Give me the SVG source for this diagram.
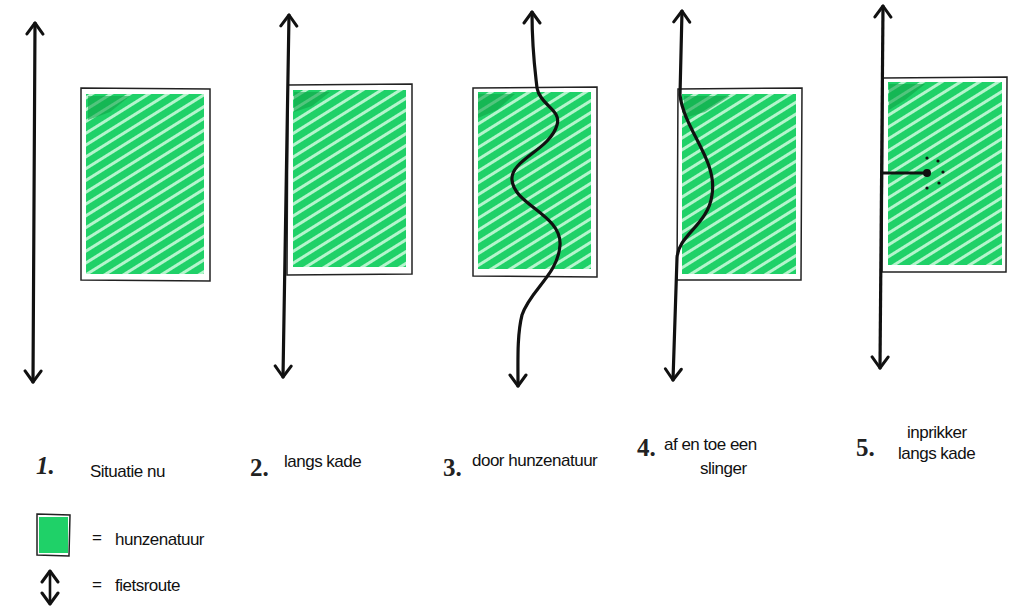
<svg xmlns="http://www.w3.org/2000/svg" width="1025" height="611" viewBox="0 0 1025 611">
<style>
.box{fill:none;stroke:#222;stroke-width:1.5}
.route{fill:none;stroke:#111;stroke-width:3.2;stroke-linecap:round;stroke-linejoin:round}
.num{font-family:"Liberation Serif",serif;font-style:italic;font-weight:bold;font-size:25px;fill:#222}
.num2{font-family:"Liberation Serif",serif;font-weight:bold;font-size:25px;fill:#222}
.hand{font-family:"Liberation Sans",sans-serif;font-size:17px;fill:#111;letter-spacing:-0.5px}
.green{fill:url(#hatch)}
.dark{fill:#0fa548;opacity:0.6}
</style>
<defs>
<pattern id="hatch" patternUnits="userSpaceOnUse" width="10" height="10" patternTransform="rotate(-32)">
<rect width="10" height="10" fill="#b5f5cd"/>
<rect y="0" width="10" height="7" fill="#1fd168"/>
</pattern>
<marker id="ah" viewBox="0 0 20 20" refX="17" refY="10" markerWidth="20" markerHeight="20" markerUnits="userSpaceOnUse" orient="auto-start-reverse">
<path d="M6,2 L17,10 L6,18" fill="none" stroke="#111" stroke-width="3" stroke-linecap="round" stroke-linejoin="round"/>
</marker>
</defs>

<g id="panel1">
<rect class="green" x="86" y="94" width="118" height="180"/>
<path class="dark" d="M88,96 L130,96 L110,112 L88,120 Z"/>
<path class="box" d="M81,88 L210,89 L210,281 L81,280 Z"/>
</g>
<g id="panel2">
<rect class="green" x="293" y="90" width="113" height="177"/>
<path class="dark" d="M294,92 L330,92 L312,106 L294,112 Z"/>
<path class="box" d="M288,85 L412,84 L412,274 L287,275 Z"/>
</g>
<g id="panel3">
<rect class="green" x="478" y="92" width="113" height="177"/>
<path class="dark" d="M478,94 L515,94 L497,110 L478,118 Z"/>
<path class="box" d="M473,88 L597,87 L597,277 L473,276 Z"/>
</g>
<g id="panel4">
<rect class="green" x="682" y="94" width="114" height="180"/>
<path class="dark" d="M684,96 L730,96 L705,112 L684,118 Z"/>
<path class="box" d="M678,89 L802,88 L801,280 L677,280 Z"/>
</g>
<g id="panel5">
<rect class="green" x="888" y="82" width="114" height="183"/>
<path class="dark" d="M889,84 L925,84 L905,100 L889,110 Z"/>
<path class="box" d="M883,78 L1007,77 L1006,272 L882,272 Z"/>
</g>

<g id="connectors">
<path class="route" d="M35,23 L33,382" marker-start="url(#ah)" marker-end="url(#ah)"/>
<path class="route" d="M289,15 L283,377" marker-start="url(#ah)" marker-end="url(#ah)"/>
<path class="route" d="M532,12 C532,50 535,70 537,88 C540,105 562,110 557,125 C550,150 510,160 512,180 C514,205 562,215 560,245 C558,275 530,290 522,315 C517,335 518,360 518,386" marker-start="url(#ah)" marker-end="url(#ah)"/>
<path class="route" d="M682,11 L680,95 C684,130 718,160 712,195 C708,225 678,235 677,258 L673,380" marker-start="url(#ah)" marker-end="url(#ah)"/>
<path class="route" d="M883,6 L880,368" marker-start="url(#ah)" marker-end="url(#ah)"/>
<path class="route" d="M883,173 L927,173"/>
</g>

<g id="inprikker">
<circle cx="927" cy="173" r="4" fill="#111"/>
<circle cx="927" cy="158" r="1.6" fill="#111"/>
<circle cx="938" cy="161" r="1.6" fill="#111"/>
<circle cx="943" cy="172" r="1.6" fill="#111"/>
<circle cx="939" cy="183" r="1.6" fill="#111"/>
<circle cx="927" cy="188" r="1.6" fill="#111"/>
</g>

<g id="labels">
<text class="num" x="36" y="474">1.</text>
<text class="hand" x="90" y="477">Situatie nu</text>
<text class="num2" x="250" y="476">2.</text>
<text class="hand" x="284" y="467">langs kade</text>
<text class="num2" x="443" y="476">3.</text>
<text class="hand" x="472" y="466">door hunzenatuur</text>
<text class="num2" x="637" y="456">4.</text>
<text class="hand" x="664" y="450">af en toe een</text>
<text class="hand" x="700" y="474">slinger</text>
<text class="num2" x="856" y="456">5.</text>
<text class="hand" x="907" y="438">inprikker</text>
<text class="hand" x="898" y="459">langs kade</text>
</g>

<g id="legend">
<rect x="39" y="517" width="29" height="36" fill="#1fd168"/>
<path class="box" d="M37,514 L70,515 L69,556 L37,555 Z"/>
<text class="hand" x="92" y="543">=</text>
<text class="hand" x="115" y="545">hunzenatuur</text>
<path class="route" d="M50,571 L50,604" marker-start="url(#ah)" marker-end="url(#ah)" style="stroke-width:2.6"/>
<text class="hand" x="92" y="590">=</text>
<text class="hand" x="115" y="591">fietsroute</text>
</g>
</svg>
